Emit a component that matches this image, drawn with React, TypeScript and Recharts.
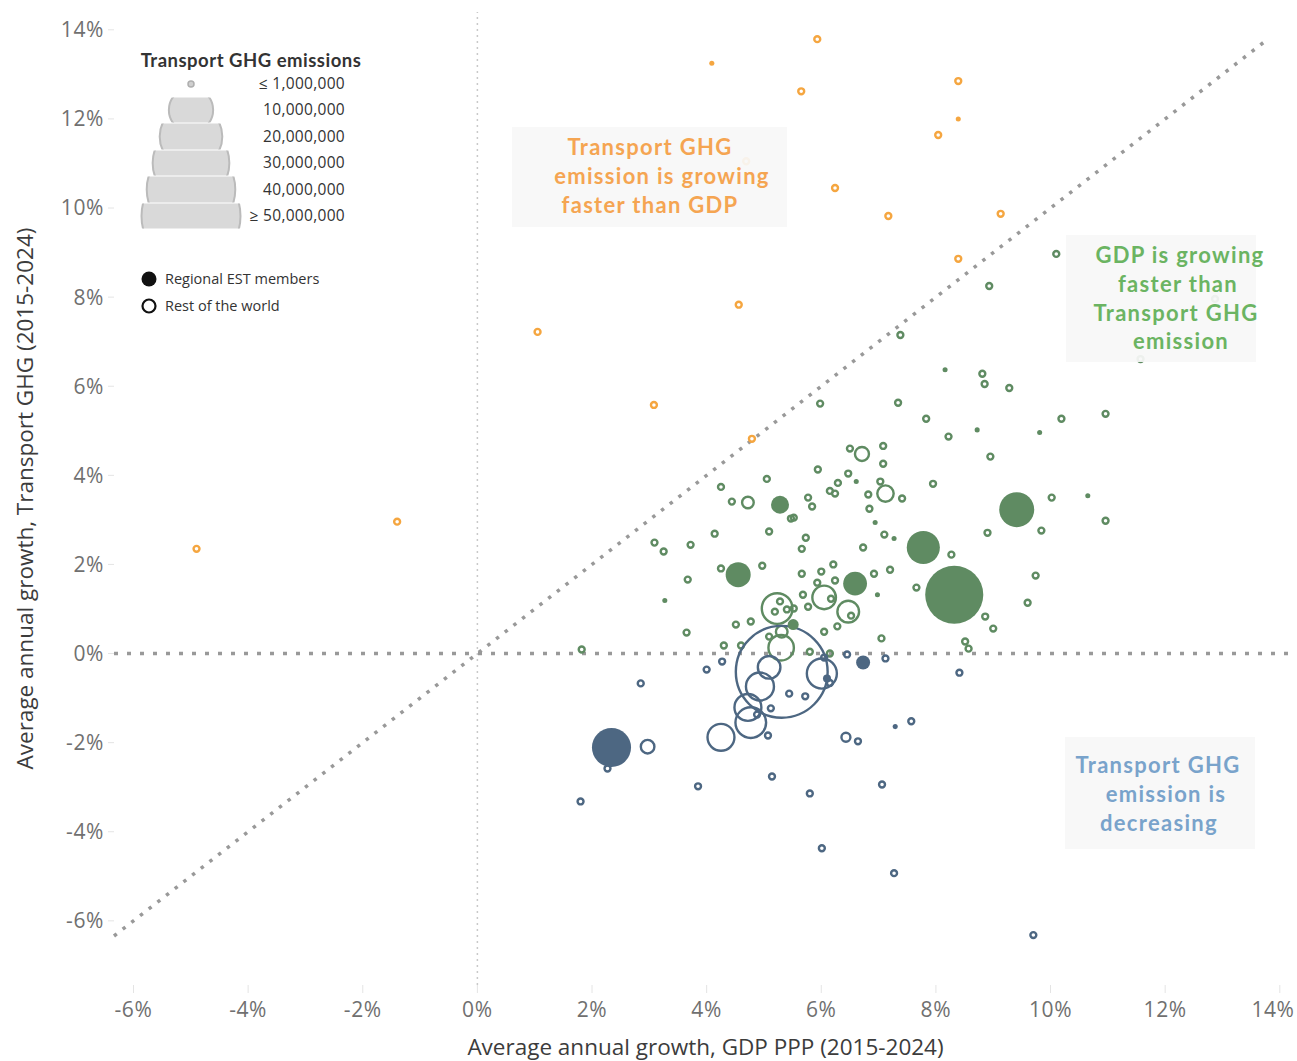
import { ScatterChart, Scatter, XAxis, YAxis, ZAxis, ReferenceLine, Label } from "recharts"

// [GDP PPP growth %, transport GHG growth %, transport GHG emissions (million t)]
type Pt = [number, number, number]

const X_TICKS = [-6, -4, -2, 0, 2, 4, 6, 8, 10, 12, 14]
const Y_TICKS = [-6, -4, -2, 0, 2, 4, 6, 8, 10, 12, 14]
const SIZE_LEGEND = [10, 20, 30, 40, 50]
const SIZE_LABELS = ["10,000,000", "20,000,000", "30,000,000", "40,000,000", "≥ 50,000,000"]

// emissions growing faster than GDP
const growingFasterEst: Pt[] = [
  [4.09, 13.25, 0.13], [8.39, 12.0, 0.13],
]
const growingFasterRest: Pt[] = [
  [-4.9, 2.35, 0.18], [-1.4, 2.96, 0.18], [1.05, 7.22, 0.18], [3.08, 5.58, 0.18], [4.56, 7.83, 0.18],
  [4.79, 4.82, 0.18], [5.93, 13.79, 0.18], [5.65, 12.62, 0.18], [6.24, 10.45, 0.18], [7.17, 9.82, 0.18],
  [8.04, 11.64, 0.18], [8.39, 12.85, 0.18], [8.39, 8.86, 0.18], [9.13, 9.87, 0.18], [4.69, 11.05, 0.18],
]

// GDP growing faster than emissions
const decouplingEst: Pt[] = [
  [8.16, 6.37, 0.13], [8.72, 5.02, 0.13], [9.81, 4.96, 0.13], [6.61, 3.86, 0.13], [5.28, 3.34, 1.65],
  [9.41, 3.23, 6.25], [6.94, 2.94, 0.13], [7.27, 2.58, 0.13], [7.78, 2.38, 5.6], [4.55, 1.77, 3.2],
  [6.59, 1.57, 2.9], [6.98, 1.32, 0.13], [8.32, 1.32, 17.2], [5.51, 0.65, 0.62], [3.27, 1.19, 0.13],
  [10.65, 3.54, 0.13],
]
const decouplingRest: Pt[] = [
  [7.38, 7.15, 0.18], [8.81, 6.28, 0.18], [8.85, 6.05, 0.18], [9.28, 5.96, 0.18], [5.98, 5.61, 0.18],
  [7.34, 5.63, 0.18], [7.83, 5.27, 0.18], [10.19, 5.27, 0.18], [10.96, 5.38, 0.18], [10.1, 8.97, 0.18],
  [8.93, 8.25, 0.18], [12.87, 7.96, 0.18], [11.57, 6.61, 0.18], [6.5, 4.6, 0.18], [6.71, 4.48, 1.0],
  [7.08, 4.66, 0.18], [8.22, 4.87, 0.18], [7.08, 4.26, 0.18], [8.95, 4.42, 0.18], [5.94, 4.13, 0.18],
  [5.05, 3.92, 0.18], [6.47, 4.04, 0.18], [6.29, 3.83, 0.18], [7.03, 3.86, 0.18], [7.95, 3.81, 0.18],
  [6.15, 3.65, 0.18], [6.24, 3.59, 0.18], [7.12, 3.59, 1.37], [4.72, 3.39, 0.69], [5.77, 3.5, 0.18],
  [5.84, 3.3, 0.18], [6.82, 3.57, 0.18], [7.41, 3.48, 0.18], [6.84, 3.25, 0.18], [10.02, 3.5, 0.18],
  [5.47, 3.03, 0.18], [5.52, 3.05, 0.18], [5.09, 2.74, 0.18], [7.1, 2.67, 0.18], [8.9, 2.71, 0.18],
  [9.84, 2.76, 0.18], [5.73, 2.6, 0.18], [5.66, 2.35, 0.18], [6.73, 2.38, 0.18], [8.27, 2.22, 0.18],
  [4.97, 1.97, 0.18], [5.66, 1.79, 0.18], [6.0, 1.84, 0.18], [6.21, 2.0, 0.18], [6.92, 1.79, 0.18],
  [7.2, 1.88, 0.18], [9.74, 1.75, 0.18], [5.93, 1.59, 0.18], [6.24, 1.64, 0.18], [7.66, 1.48, 0.18],
  [9.6, 1.14, 0.18], [5.68, 1.32, 0.18], [5.77, 1.05, 0.18], [6.05, 1.26, 2.84], [6.17, 1.23, 0.18],
  [6.47, 0.94, 2.4], [6.52, 0.85, 0.18], [5.23, 1.01, 4.8], [5.28, 1.17, 0.18], [5.19, 0.94, 0.18],
  [5.4, 0.99, 0.18], [5.52, 1.01, 0.18], [4.77, 0.72, 0.18], [6.28, 0.61, 0.18], [6.05, 0.49, 0.18],
  [5.31, 0.49, 0.69], [5.09, 0.38, 0.18], [8.86, 0.83, 0.18], [9.0, 0.56, 0.18], [7.05, 0.34, 0.18],
  [8.51, 0.27, 0.18], [8.57, 0.11, 0.18], [5.3, 0.13, 3.3], [4.25, 1.91, 0.18], [3.67, 1.66, 0.18],
  [3.65, 0.47, 0.18], [1.82, 0.09, 0.18], [4.3, 0.18, 0.18], [4.6, 0.18, 0.18], [4.51, 0.65, 0.18],
  [5.8, 0.04, 0.18], [6.15, 0.0, 0.18], [4.25, 3.74, 0.18], [4.44, 3.41, 0.18], [4.14, 2.69, 0.18],
  [3.09, 2.49, 0.18], [3.25, 2.29, 0.18], [3.72, 2.44, 0.18], [10.96, 2.98, 0.18],
]

// emissions decreasing
const decreasingEst: Pt[] = [
  [6.73, -0.2, 1.0], [2.34, -2.11, 7.8], [6.1, -0.56, 0.33], [7.29, -1.64, 0.13],
]
const decreasingRest: Pt[] = [
  [5.31, -0.41, 43], [5.09, -0.31, 2.6], [4.93, -0.74, 4.0], [4.72, -1.21, 3.7], [4.77, -1.55, 4.8],
  [4.25, -1.88, 3.7], [6.01, -0.45, 4.6], [6.05, -0.09, 0.18], [6.45, -0.02, 0.18], [7.12, -0.11, 0.18],
  [4.27, -0.18, 0.18], [4.0, -0.36, 0.18], [2.85, -0.67, 0.18], [5.44, -0.9, 0.18], [5.72, -0.96, 0.18],
  [5.12, -1.23, 0.18], [4.88, -1.37, 0.18], [5.07, -1.84, 0.18], [6.43, -1.88, 0.41], [6.64, -1.97, 0.18],
  [2.97, -2.09, 0.94], [2.27, -2.58, 0.18], [5.14, -2.76, 0.18], [1.8, -3.32, 0.18], [3.85, -2.98, 0.18],
  [5.8, -3.14, 0.18], [7.06, -2.94, 0.18], [7.57, -1.52, 0.18], [8.41, -0.43, 0.18], [6.01, -4.37, 0.18],
  [7.27, -4.93, 0.18], [9.7, -6.32, 0.18], [6.15, -0.66, 0.18],
]

const ORANGE = "#F5A640"
const GREEN = "#5F8B62"
const BLUE = "#4D6782"
const FONT = "'Open Sans', sans-serif"
const BOLD_FONT = "Lato, 'Open Sans', sans-serif"
const CHART_W = 1297

const Z_MAX = 50
const Z_AREA = Math.PI * 49.5 * 49.5
const radiusFor = (v: number) => Math.sqrt((Z_AREA * v) / Z_MAX / Math.PI)

const toRows = (pts: Pt[]) => pts.map(([x, y, z]) => ({ x, y, z }))

function ring(color: string) {
  return (p: any) => {
    const r = p.width ? p.width / 2 : Math.sqrt((p.size || 0) / Math.PI)
    return <circle cx={p.cx} cy={p.cy} r={r} fill="none" stroke={color} strokeWidth={2.4} />
  }
}

function dot(color: string) {
  return (p: any) => {
    const r = p.width ? p.width / 2 : Math.sqrt((p.size || 0) / Math.PI)
    return <circle cx={p.cx} cy={p.cy} r={r} fill={color} />
  }
}

// keep the last x label inside the chart, like the original does
function XTick(p: any) {
  const x = Math.min(p.x, CHART_W - 24)
  return (
    <text x={x} y={p.y} dy="0.75em" textAnchor="middle" fill="#707070" fontSize={21} fontFamily={FONT} letterSpacing={0.6}>
      {`${p.payload.value}%`}
    </text>
  )
}

function NoteBox({ left, top, width, height, color, lines, textLeft, textWidth, textTop }: {
  left: number; top: number; width: number; height: number; color: string
  lines: [string, number][]; textLeft: number; textWidth: number; textTop: number
}) {
  return (
    <>
      <div style={{ position: "absolute", left, top, width, height, background: "rgba(247,247,247,0.93)" }} />
      <div
        style={{
          position: "absolute", left: textLeft, top: top + textTop, width: textWidth, textAlign: "center",
          fontFamily: BOLD_FONT, fontWeight: 700, fontSize: 22, lineHeight: "28.8px", color, letterSpacing: 1.3,
        }}
      >
        {lines.map(([l, dx]) => <div key={l} style={{ position: "relative", left: dx }}>{l}</div>)}
      </div>
    </>
  )
}

function Legend() {
  const cx = 191
  const bands = [[97, 123], [123, 150], [150, 176], [176, 203], [203, 229]]
  return (
    <svg width={400} height={330} style={{ position: "absolute", left: 0, top: 0 }}>
      <defs>
        {bands.map(([a, b], i) => (
          <clipPath id={`band${i}`} key={i}>
            <rect x={0} y={a + 0.6} width={400} height={b - a - 1.2} />
          </clipPath>
        ))}
      </defs>
      <text x={251} y={67} textAnchor="middle" fontFamily={BOLD_FONT} fontWeight={700} fontSize={18.5} letterSpacing={0.5} fill="#333">
        Transport GHG emissions
      </text>
      <circle cx={cx} cy={84} r={3} fill="#CFCFCF" stroke="#AFAFAF" strokeWidth={1.5} />
      <text x={345} y={89} textAnchor="end" fontFamily={FONT} fontSize={15.5} letterSpacing={0.3} fill="#333">≤ 1,000,000</text>
      {SIZE_LEGEND.map((v, i) => {
        const [a, b] = bands[i]
        return (
          <g key={v}>
            <circle cx={cx} cy={(a + b) / 2} r={radiusFor(v)} fill="#D9D9D9" stroke="#BBBBBB" strokeWidth={2} clipPath={`url(#band${i})`} />
            <text x={345} y={(a + b) / 2 + 5} textAnchor="end" fontFamily={FONT} fontSize={15.5} letterSpacing={0.3} fill="#333">
              {SIZE_LABELS[i]}
            </text>
          </g>
        )
      })}
      <circle cx={149} cy={279} r={7.5} fill="#111" />
      <text x={165} y={284} fontFamily={FONT} fontSize={14.5} fill="#333">Regional EST members</text>
      <circle cx={149} cy={306} r={6.5} fill="none" stroke="#111" strokeWidth={2.2} />
      <text x={165} y={311} fontFamily={FONT} fontSize={14.5} fill="#333">Rest of the world</text>
    </svg>
  )
}

export default function App() {
  const tick = { fill: "#707070", fontSize: 21, fontFamily: FONT, letterSpacing: 0.6 }
  return (
    <div style={{ position: "absolute", left: 0, top: 0, width: CHART_W, height: 1061, overflow: "hidden", background: "#fff" }}>
      <ScatterChart width={CHART_W} height={1061} margin={{ top: 12, right: 0, bottom: 0, left: 0 }}>
        <XAxis
          type="number" dataKey="x" domain={[-6.34, 14.3]} allowDataOverflow ticks={X_TICKS}
          tick={<XTick />} tickLine={{ stroke: "#e4e4e4" }} axisLine={false}
          height={76} tickSize={8} tickMargin={8}
        >
          <Label
            value="Average annual growth, GDP PPP (2015-2024)" position="insideBottom" offset={6}
            style={{ fill: "#3c3c3c", fontSize: 22.5, fontFamily: FONT }}
          />
        </XAxis>
        <YAxis
          type="number" dataKey="y" domain={[-7.44, 14.4]} allowDataOverflow ticks={Y_TICKS}
          tickFormatter={v => `${v}%`} tick={tick} tickLine={{ stroke: "#e4e4e4" }} axisLine={false}
          width={114} tickSize={6} tickMargin={4}
        >
          <Label
            value="Average annual growth, Transport GHG (2015-2024)" angle={-90} position="insideLeft" offset={25}
            textAnchor="middle" style={{ fill: "#3c3c3c", fontSize: 22.5, fontFamily: FONT, textAnchor: "middle" }}
          />
        </YAxis>
        <ZAxis type="number" dataKey="z" domain={[0, Z_MAX]} range={[0, Z_AREA]} />
        <ReferenceLine x={0} stroke="#c9c9c9" strokeWidth={1.5} strokeDasharray="2 4" />
        <Scatter data={toRows(decouplingRest)} shape={ring(GREEN)} isAnimationActive={false} />
        <Scatter data={toRows(decreasingRest)} shape={ring(BLUE)} isAnimationActive={false} />
        <Scatter data={toRows(growingFasterRest)} shape={ring(ORANGE)} isAnimationActive={false} />
        <Scatter data={toRows(decouplingEst)} shape={dot(GREEN)} isAnimationActive={false} />
        <Scatter data={toRows(decreasingEst)} shape={dot(BLUE)} isAnimationActive={false} />
        <Scatter data={toRows(growingFasterEst)} shape={dot(ORANGE)} isAnimationActive={false} />
        <ReferenceLine y={0} stroke="#999" strokeWidth={3.5} strokeDasharray="4 9" />
        <ReferenceLine
          segment={[{ x: -6.34, y: -6.34 }, { x: 13.72, y: 13.72 }]}
          stroke="#999" strokeWidth={3.5} strokeDasharray="3.5 7.5"
        />
      </ScatterChart>
      <Legend />
      <NoteBox
        left={512} top={127} width={275} height={100} color="#F5A552" textLeft={515} textWidth={270} textTop={6}
        lines={[["Transport GHG", 0], ["emission is growing", 12], ["faster than GDP", 0]]}
      />
      <NoteBox
        left={1066} top={235} width={190} height={127} color="#6BB462" textLeft={1058} textWidth={240} textTop={6}
        lines={[["GDP is growing", 2], ["faster than", 0], ["Transport GHG", -2], ["emission", 3]]}
      />
      <NoteBox
        left={1065} top={737} width={190} height={112} color="#79A3CB" textLeft={1060} textWidth={200} textTop={14}
        lines={[["Transport GHG", -2], ["emission is", 6], ["decreasing", -1]]}
      />
    </div>
  )
}
